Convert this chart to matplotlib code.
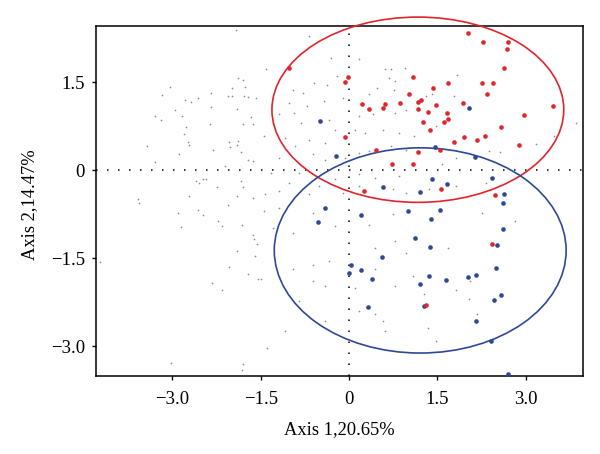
import matplotlib
matplotlib.use("Agg")
import matplotlib.pyplot as plt
from matplotlib.patches import Ellipse

# ------------------------------------------------------------
# Data (axis units)
# ------------------------------------------------------------

# large red points (group 1)
red_x = [2.02, 2.27, 2.71, 2.69, 2.64, -0.01, -0.06, 1.09, 1.68, 2.26,
         2.45, 1.42, 2.34, 1.02, 0.22, 0.34, 0.62, 0.57, 0.87, 1.17,
         1.22, 1.17, 1.48, 1.93, 1.35, 1.67, 1.69, 1.62, 1.26, 1.38,
         3.47, 2.98, 2.59, 2.89, -0.06, 1.96, 2.17, 2.31, 1.79, 0.46,
         1.18, 1.54, 0.73, 1.08, 0.25, 1.56, 2.48, -1.02, 2.43, 1.30]
red_y = [2.34, 2.18, 2.19, 2.06, 1.74, 1.59, 1.50, 1.58, 1.48, 1.48,
         1.48, 1.40, 1.29, 1.29, 1.12, 1.05, 1.13, 1.06, 1.15, 1.16,
         1.20, 1.04, 1.11, 1.15, 0.99, 0.98, 0.87, 0.82, 0.82, 0.68,
         1.10, 0.94, 0.74, 0.43, 0.56, 0.56, 0.51, 0.58, 0.48, 0.35,
         0.31, 0.35, 0.10, 0.11, -0.36, -0.33, -0.43, 1.74, -1.26, -2.30]

# large blue points (group 2)
blue_x = [2.04, -0.22, 1.46, 2.14, 1.41, 1.66, 0.58, 1.20, 2.43, 2.64,
          -0.49, 2.62, 0.20, 1.00, 1.54, 1.40, 2.61, 1.12, 1.37, 2.52,
          0.56, 0.03, 0.00, 0.20, 0.39, 1.36, 1.21, 1.64, 2.02, 2.15,
          2.49, 2.59, 2.46, 0.32, 1.27, 2.16, 2.41, 2.71, -0.40, -0.53]
blue_y = [1.06, 0.24, 0.39, 0.23, -0.15, -0.23, -0.28, -0.37, -0.14, -0.41,
          0.83, -0.56, -0.76, -0.70, -0.68, -0.83, -1.01, -1.16, -1.31, -1.28,
          -1.49, -1.61, -1.76, -1.71, -1.85, -1.81, -1.94, -1.87, -1.83, -1.79,
          -1.67, -2.13, -2.21, -2.33, -2.31, -2.57, -2.91, -3.48, -0.65, -0.89]

# small grey points (all other individuals)
grey_x = [-1.92, -1.89, -1.81, -1.76, -1.99, -3.04, -3.17, -2.34, -2.05, -1.99,
          -1.79, -1.72, -1.58, -2.78, -2.69, -2.57, -2.34, -2.96, -1.90, -2.84,
          -3.30, -3.20, -1.67, -1.81, -1.64, -2.36, -2.77, -2.81, -2.74, -2.72,
          -2.04, -1.88, -2.03, -1.90, -2.32, -3.44, -1.83, -2.89, -1.71, -1.64,
          -3.29, -2.10, -2.60, -2.48, -2.43, -2.55, -1.83, -2.25, -1.80, -3.58,
          -2.72, -1.90, -1.64,
          -2.56, -2.49, -2.91, -2.05, -2.23, -2.16, -2.86, -1.82, -1.63, -1.62,
          -1.56, -1.90, -1.60, -4.23, -2.04, -1.72, -1.54, -2.33, -2.16, -3.02,
          -1.81, -1.82, -3.57,
          -0.68, -0.30, 0.17, -1.41, -0.21, 0.62, 0.71, 0.95, -0.60, -0.37,
          -0.79, -0.96, 0.68, 0.79, 0.77, 0.48, 0.34, -0.11, -0.43, -0.71,
          -1.02, -0.94, -1.19, -1.30, -0.82, -0.34, 0.17, 0.40, 0.79, 0.96,
          -0.23, 0.11, 0.28, 0.57, 0.85, 1.11, -1.45, -1.08, -0.68, -0.40,
          -0.91, -0.62, 0.17, 0.34, 0.71, 0.96, -1.19, -0.40, -0.06, -1.33,
          -0.85, 0.17, 0.45, 0.85, -0.23, -1.02, -0.51, 0.17, 0.74, -1.19,
          -0.68, -0.11, 0.96, -1.42,
          -1.45, -1.19, -0.96, -1.30, -0.62, -0.23, 0.34, 0.74, 0.79, 0.45,
          0.96, -0.62, -0.34, -0.96, 0.45, -0.62, -0.40, 0.11, 0.79, 1.08,
          -0.85, 0.17, 0.45, -0.40, 0.57, -1.08, 0.62, -1.39, -1.50,
          1.30, 1.41, 1.78, 1.84, 1.27, 1.47, 2.38, 2.57, 1.81, 3.17,
          3.48, 3.85, 1.58, 2.32, 2.83, 1.81, 1.36,
          2.26, 2.82, 1.68, 1.81, 2.04, 2.18, 1.34, 1.47, 2.06, 2.46, 1.27]
grey_y = [2.39, 1.57, 1.53, 1.41, 1.40, 1.41, 1.28, 1.32, 1.26, 1.26,
          1.26, 1.24, 1.23, 1.19, 1.17, 1.23, 1.07, 1.03, 1.04, 0.93,
          0.92, 0.86, 0.91, 0.79, 0.79, 0.79, 0.74, 0.62, 0.48, 0.43,
          0.48, 0.49, 0.39, 0.42, 0.34, 0.41, 0.31, 0.27, 0.17, 0.15,
          0.14, 0.07, -0.18, -0.16, -0.16, -0.22, -0.19, -0.28, -0.28, -0.50,
          -0.45, -0.45, -0.47,
          -0.68, -0.77, -0.73, -0.60, -0.87, -0.95, -0.97, -0.94, -1.10, -1.18,
          -1.26, -1.38, -1.47, -1.57, -1.66, -1.77, -1.85, -1.93, -2.05, -3.29,
          -3.31, -3.41, -0.56,
          2.28, 1.91, 1.89, 1.72, 1.60, 1.72, 1.73, 1.74, 1.49, 1.46,
          1.32, 1.37, 1.57, 1.52, 1.37, 1.40, 1.29, 1.23, 1.18, 1.09,
          1.15, 0.98, 0.95, 0.81, 0.81, 0.86, 0.92, 0.95, 0.98, 1.03,
          0.69, 0.69, 0.64, 0.69, 0.64, 0.58, 0.58, 0.55, 0.52, 0.47,
          0.41, 0.27, 0.29, 0.32, 0.41, 0.35, 0.21, 0.18, 0.21, -0.05,
          -0.05, -0.07, -0.13, -0.10, -0.16, -0.22, -0.27, -0.27, -0.33, -0.36,
          -0.41, -0.39, -0.39, -0.41,
          -0.70, -0.64, -1.07, -0.98, -0.73, -0.95, -0.93, -0.75, -1.21, -1.32,
          -1.41, -1.61, -1.55, -1.69, -1.69, -1.89, -1.98, -2.01, -1.98, -1.81,
          -2.23, -2.40, -2.46, -2.57, -2.57, -2.74, -2.74, -3.03, -1.86,
          1.26, 1.29, 1.26, 1.63, 0.81, 0.75, 0.32, 0.31, 0.21, 0.44,
          0.58, 0.81, 0.10, -0.22, -0.05, -0.27, -0.33,
          -0.73, -0.87, -1.32, -2.05, -2.19, -2.46, -2.69, -2.91, -1.89, -2.23, -2.12]

# confidence ellipses: centre x, centre y, width, height
red_ellipse = (1.17, 1.03, 4.96, 3.16)
blue_ellipse = (1.21, -1.37, 4.96, 3.50)

x_ticks = [-3.0, -1.5, 0.0, 1.5, 3.0]
x_tick_labels = ["\u22123.0", "\u22121.5", "0", "1.5", "3.0"]
y_ticks = [-3.0, -1.5, 0.0, 1.5]
y_tick_labels = ["\u22123.0", "\u22121.5", "0", "1.5"]

RED = "#e0252b"
BLUE = "#2e4896"

# ------------------------------------------------------------
# Chart
# ------------------------------------------------------------

plt.rcParams["font.family"] = ["Liberation Serif", "DejaVu Serif"]

fig = plt.figure(figsize=(6.0, 4.54), dpi=100)
ax = fig.add_axes([0.16, 0.172, 0.812, 0.771])

ax.axhline(0, color="black", lw=1.1, linestyle=(0, (1, 6.2)), zorder=1)
ax.axvline(0, color="black", lw=1.1, linestyle=(0, (1, 6.2)), zorder=1)

ax.scatter(grey_x, grey_y, s=1.5, color="#8c8c8c", linewidths=0, zorder=2)
ax.scatter(blue_x, blue_y, s=11, color=BLUE, linewidths=0, zorder=4)
ax.scatter(red_x, red_y, s=11, color=RED, linewidths=0, zorder=5)

for (cx, cy, w, h), col in [(red_ellipse, RED), (blue_ellipse, BLUE)]:
    ax.add_patch(Ellipse((cx, cy), w, h, fill=False, edgecolor=col,
                         lw=1.2, clip_on=False, zorder=3))

ax.set_xlim(-4.30, 3.98)
ax.set_ylim(-3.51, 2.46)

ax.set_xticks(x_ticks)
ax.set_xticklabels(x_tick_labels)
ax.set_yticks(y_ticks)
ax.set_yticklabels(y_tick_labels)
ax.tick_params(direction="out", length=3, width=1.0, labelsize=13.5,
               colors="black")
ax.tick_params(axis="x", pad=8)
ax.tick_params(axis="y", pad=5)

for spine in ax.spines.values():
    spine.set_linewidth(1.1)
    spine.set_color("black")

ax.set_xlabel("Axis 1,20.65%", fontsize=13.3)
ax.set_ylabel("Axis 2,14.47%", fontsize=13.3)
ax.xaxis.set_label_coords(0.5, -0.13)
ax.yaxis.set_label_coords(-0.119, 0.49)

fig.savefig("out.png", dpi=100)
